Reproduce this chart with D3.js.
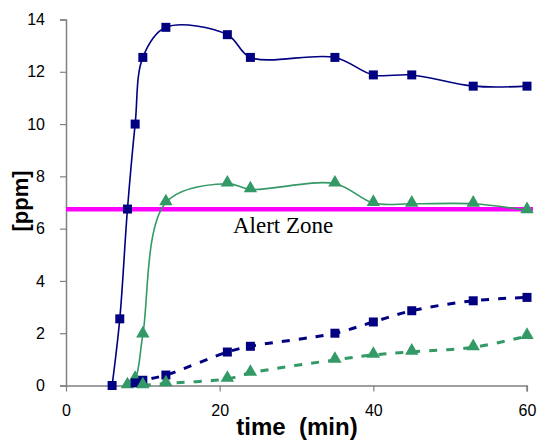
<!DOCTYPE html>
<html>
<head>
<meta charset="utf-8">
<script src="https://cdn.jsdelivr.net/npm/d3@7"></script>
<style>
  html, body { margin: 0; padding: 0; background: #fff; }
  svg { display: block; }
</style>
</head>
<body>
<script>
// ---- data ----
const xTicks = [0, 20, 40, 60];
const yTicks = [0, 2, 4, 6, 8, 10, 12, 14];

const navySolidT = [6, 7, 8, 9, 10, 13, 21, 24, 35, 40, 45, 53, 60];
const navySolidV = [0, 2.55, 6.75, 10, 12.55, 13.7, 13.42, 12.55, 12.55, 11.88, 11.88, 11.45, 11.45];

const greenSolidT = [8, 9, 10, 13, 21, 24, 35, 40, 45, 53, 60];
const greenSolidV = [0, 0.25, 1.95, 7.0, 7.72, 7.5, 7.72, 6.98, 6.95, 6.95, 6.7];

const navyDashT = [9, 10, 13, 21, 24, 35, 40, 45, 53, 60];
const navyDashV = [0.1, 0.2, 0.4, 1.28, 1.5, 2.0, 2.43, 2.86, 3.24, 3.37];

const greenDashT = [10, 13, 21, 24, 35, 40, 45, 53, 60];
const greenDashV = [0, 0.08, 0.25, 0.48, 0.98, 1.17, 1.29, 1.46, 1.89];

const alertLevel = 6.74;
const alertLabel = "Alert Zone";

// ---- layout ----
const W = 540, H = 443;
const svg = d3.select("body").append("svg").attr("width", W).attr("height", H);

const x = d3.scaleLinear().domain([0, 60]).range([66, 527]);
const y = d3.scaleLinear().domain([0, 14]).range([385.5, 19.5]);

const NAVY = "#000080", GREEN = "#339966", MAGENTA = "#FF00FF", AXIS = "#808080";

// axes
const gx = svg.append("g").attr("transform", `translate(0,${y(0)})`)
  .call(d3.axisBottom(x).tickValues(xTicks).tickSize(6).tickPadding(13));
const gy = svg.append("g").attr("transform", `translate(${x(0)},0)`)
  .call(d3.axisLeft(y).tickValues(yTicks).tickSize(6).tickPadding(15));
[gx, gy].forEach(g => {
  g.select(".domain").attr("stroke", AXIS).attr("stroke-width", 1.5);
  g.selectAll(".tick line").attr("stroke", AXIS).attr("stroke-width", 1.2);
  g.selectAll(".tick text").attr("font-family", "Liberation Sans, Arial, sans-serif")
    .attr("font-size", 16).attr("fill", "#000");
});
gx.select(".domain").attr("d", `M${x(0)},0.5H${x(60)}V6`);

// alert line
svg.append("line")
  .attr("x1", x(0)).attr("x2", x(60) + 6)
  .attr("y1", y(alertLevel)).attr("y2", y(alertLevel))
  .attr("stroke", MAGENTA).attr("stroke-width", 4.5);
svg.append("text").attr("x", 233).attr("y", 233)
  .attr("font-family", "Liberation Serif, Times New Roman, serif")
  .attr("font-size", 23).attr("fill", "#000").text(alertLabel);

// series
const line = d3.line().x(d => x(d[0])).y(d => y(d[1])).curve(d3.curveCatmullRom.alpha(0.5));
const zip = (t, v) => t.map((d, i) => [d, v[i]]);

const series = [
  { pts: zip(navySolidT, navySolidV), color: NAVY, width: 1.6, dash: null, marker: "square" },
  { pts: zip(greenSolidT, greenSolidV), color: GREEN, width: 1.6, dash: null, marker: "triangle" },
  { pts: zip(navyDashT, navyDashV), color: NAVY, width: 3, dash: "8,9", marker: "square" },
  { pts: zip(greenDashT, greenDashV), color: GREEN, width: 3, dash: "8,9", marker: "triangle" }
];

series.forEach(s => {
  svg.append("path").datum(s.pts).attr("d", line)
    .attr("fill", "none").attr("stroke", s.color).attr("stroke-width", s.width)
    .attr("stroke-dasharray", s.dash);
});
series.forEach(s => {
  const sym = d3.symbol().type(s.marker === "square" ? d3.symbolSquare : d3.symbolTriangle)
    .size(s.marker === "square" ? 81 : 78);
  svg.append("g").selectAll("path").data(s.pts).join("path")
    .attr("d", sym)
    .attr("transform", d => `translate(${x(d[0])},${y(d[1]) + (s.marker === "triangle" ? -1 : 0)})`)
    .attr("fill", s.color);
});

// axis titles
svg.append("text").attr("x", 297).attr("y", 435).attr("text-anchor", "middle")
  .attr("font-family", "Liberation Sans, Arial, sans-serif").attr("font-weight", "bold")
  .attr("font-size", 24).attr("fill", "#000").attr("xml:space", "preserve")
  .style("white-space", "pre").text("time  (min)");
svg.append("text").attr("transform", "translate(28,201) rotate(-90)").attr("text-anchor", "middle")
  .attr("font-family", "Liberation Sans, Arial, sans-serif").attr("font-weight", "bold")
  .attr("font-size", 22).attr("fill", "#000").text("[ppm]");
</script>
</body>
</html>
